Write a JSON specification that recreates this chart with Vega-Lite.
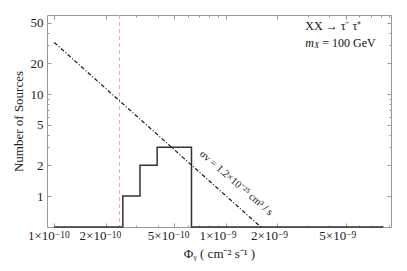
{
  "$schema": "https://vega.github.io/schema/vega-lite/v6.json",
  "width": 344,
  "height": 212,
  "autosize": "none",
  "padding": {"left": 47, "top": 15, "right": 16, "bottom": 44},
  "background": "white",
  "config": {
    "view": {"stroke": "#999999", "strokeWidth": 1},
    "font": "Liberation Serif"
  },
  "datasets": {
    "hist": [
      {"phi": 1e-10, "n": 0.497},
      {"phi": 2.51e-10, "n": 1},
      {"phi": 3.16e-10, "n": 2},
      {"phi": 3.98e-10, "n": 3},
      {"phi": 6.31e-10, "n": 0.497},
      {"phi": 8.3e-9, "n": 0.497}
    ],
    "sens": [
      {"phi": 1e-10, "n": 32},
      {"phi": 1.6e-9, "n": 0.497}
    ],
    "thresh": [{"phi": 2.4e-10}],
    "notes": [
      {"phi": 2.91e-9, "n": 46.4, "label": "XX → τ⁻ τ⁺", "kind": "a"},
      {"phi": 1.15e-9, "n": 1.34, "label": "σv = 1.2×10⁻²⁵ cm³ / s", "kind": "b"}
    ]
  },
  "resolve": {"axis": {"x": "independent", "y": "independent"}},
  "layer": [
    {
      "data": {"name": "thresh"},
      "mark": {"type": "rule", "color": "#f0a8a8", "strokeDash": [4, 3], "strokeWidth": 1},
      "encoding": {
        "x": {"field": "phi", "type": "quantitative", "scale": {"type": "log", "domain": [9.07e-11, 9.19e-9], "nice": false},
          "axis": {
            "orient": "bottom", "title": null, "ticks": false, "tickSize": 0, "domain": false, "grid": false,
            "values": [1e-10, 2e-10, 5e-10, 1e-9, 2e-9, 5e-9],
            "labelExpr": "floor(log(datum.value)/LN10+0.001) == -10 ? '−10' : ' −9'",
            "labelFont": "Liberation Serif", "labelFontSize": 9.5, "labelColor": "#222222",
            "labelAlign": "left", "labelBaseline": "top", "labelDx": 7, "labelDy": -2,
            "labelOverlap": false, "labelFlush": false, "labelPadding": 2
          }
        }
      }
    },
    {
      "data": {"name": "hist"},
      "mark": {"type": "line", "interpolate": "step-after", "color": "#333333", "strokeWidth": 1.5},
      "encoding": {
        "x": {"field": "phi", "type": "quantitative",
          "scale": {"type": "log", "domain": [9.07e-11, 9.19e-9], "nice": false},
          "axis": {
            "orient": "bottom",
            "title": "Φᵧ ( cm⁻² s⁻¹ )",
            "titleFont": "Liberation Serif", "titleFontWeight": "normal", "titleFontSize": 13, "titleColor": "#222222",
            "titlePadding": 3,
            "values": [1e-10, 2e-10, 3e-10, 4e-10, 5e-10, 6e-10, 7e-10, 8e-10, 9e-10, 1e-9, 2e-9, 3e-9, 4e-9, 5e-9, 6e-9, 7e-9, 8e-9, 9e-9],
            "labelExpr": "(round(datum.value/pow(10,floor(log(datum.value)/LN10+0.001)))==1 || round(datum.value/pow(10,floor(log(datum.value)/LN10+0.001)))==2 || round(datum.value/pow(10,floor(log(datum.value)/LN10+0.001)))==5) ? (round(datum.value/pow(10,floor(log(datum.value)/LN10+0.001))) + '×10' + (floor(log(datum.value)/LN10+0.001) == -10 ? ' ' : '')) : ''",
            "labelFont": "Liberation Serif", "labelFontSize": 13, "labelColor": "#222222",
            "labelAlign": "right", "labelDx": 9.5,
            "labelOverlap": false, "labelFlush": false,
            "labelPadding": 6,
            "tickSize": {"condition": {"test": "round(datum.value/pow(10,floor(log(datum.value)/LN10+0.001)))==1 || round(datum.value/pow(10,floor(log(datum.value)/LN10+0.001)))==2 || round(datum.value/pow(10,floor(log(datum.value)/LN10+0.001)))==5", "value": -4}, "value": -2},
            "tickColor": "#999999",
            "domain": false, "grid": false
          }
        },
        "y": {"field": "n", "type": "quantitative",
          "scale": {"type": "log", "domain": [0.497, 59.5], "nice": false},
          "axis": {
            "orient": "left",
            "title": "Number of Sources",
            "titleFont": "Liberation Serif", "titleFontWeight": "normal", "titleFontSize": 13, "titleColor": "#222222",
            "titlePadding": 5,
            "values": [1, 2, 3, 4, 5, 6, 7, 8, 9, 10, 20, 30, 40, 50],
            "labelExpr": "indexof([1,2,5,10,20,50], datum.value) >= 0 ? datum.label : ''",
            "labelFont": "Liberation Serif", "labelFontSize": 13, "labelColor": "#222222",
            "labelOverlap": false, "labelFlush": false,
            "labelPadding": 8,
            "tickSize": {"condition": {"test": "indexof([1,2,5,10,20,50], datum.value) >= 0", "value": -4}, "value": -2},
            "tickColor": "#999999",
            "domain": false, "grid": false
          }
        }
      }
    },
    {
      "data": {"name": "sens"},
      "mark": {"type": "line", "color": "#111111", "strokeWidth": 1.2, "strokeDash": [4, 2, 1, 2]},
      "encoding": {
        "x": {"field": "phi", "type": "quantitative",
          "scale": {"type": "log", "domain": [9.07e-11, 9.19e-9], "nice": false},
          "axis": {
            "orient": "top", "title": null, "labels": false,
            "values": [1e-10, 2e-10, 3e-10, 4e-10, 5e-10, 6e-10, 7e-10, 8e-10, 9e-10, 1e-9, 2e-9, 3e-9, 4e-9, 5e-9, 6e-9, 7e-9, 8e-9, 9e-9],
            "tickSize": {"condition": {"test": "round(datum.value/pow(10,floor(log(datum.value)/LN10+0.001)))==1 || round(datum.value/pow(10,floor(log(datum.value)/LN10+0.001)))==2 || round(datum.value/pow(10,floor(log(datum.value)/LN10+0.001)))==5", "value": -4}, "value": -2},
            "tickColor": "#999999", "domain": false, "grid": false
          }
        },
        "y": {"field": "n", "type": "quantitative",
          "scale": {"type": "log", "domain": [0.497, 59.5], "nice": false},
          "axis": {
            "orient": "right", "title": null, "labels": false,
            "values": [1, 2, 3, 4, 5, 6, 7, 8, 9, 10, 20, 30, 40, 50],
            "tickSize": {"condition": {"test": "indexof([1,2,5,10,20,50], datum.value) >= 0", "value": -4}, "value": -2},
            "tickColor": "#999999", "domain": false, "grid": false
          }
        }
      }
    },
    {
      "data": {"name": "notes"},
      "transform": [{"filter": "datum.kind == 'a'"}],
      "mark": {"type": "text", "align": "left", "baseline": "middle", "font": "Liberation Serif", "fontSize": 12, "color": "#111111"},
      "encoding": {
        "x": {"field": "phi", "type": "quantitative", "scale": {"type": "log", "domain": [9.07e-11, 9.19e-9], "nice": false}, "axis": null},
        "y": {"field": "n", "type": "quantitative", "scale": {"type": "log", "domain": [0.497, 59.5], "nice": false}, "axis": null},
        "text": {"field": "label"}
      }
    },
    {
      "data": {"values": [{"phi": 2.91e-9, "n": 31.8, "part": "m"}]},
      "mark": {"type": "text", "align": "left", "baseline": "middle", "font": "Liberation Serif", "fontSize": 12, "fontStyle": "italic", "color": "#111111"},
      "encoding": {
        "x": {"field": "phi", "type": "quantitative", "scale": {"type": "log", "domain": [9.07e-11, 9.19e-9], "nice": false}, "axis": null},
        "y": {"field": "n", "type": "quantitative", "scale": {"type": "log", "domain": [0.497, 59.5], "nice": false}, "axis": null},
        "text": {"field": "part"}
      }
    },
    {
      "data": {"values": [{"phi": 2.91e-9, "n": 31.8, "part": "X"}]},
      "mark": {"type": "text", "align": "left", "baseline": "middle", "font": "Liberation Serif", "fontSize": 8, "fontStyle": "italic", "color": "#111111", "dx": 9, "dy": 3},
      "encoding": {
        "x": {"field": "phi", "type": "quantitative", "scale": {"type": "log", "domain": [9.07e-11, 9.19e-9], "nice": false}, "axis": null},
        "y": {"field": "n", "type": "quantitative", "scale": {"type": "log", "domain": [0.497, 59.5], "nice": false}, "axis": null},
        "text": {"field": "part"}
      }
    },
    {
      "data": {"values": [{"phi": 2.91e-9, "n": 31.8, "part": "=  100 GeV"}]},
      "mark": {"type": "text", "align": "left", "baseline": "middle", "font": "Liberation Serif", "fontSize": 12, "color": "#111111", "dx": 17},
      "encoding": {
        "x": {"field": "phi", "type": "quantitative", "scale": {"type": "log", "domain": [9.07e-11, 9.19e-9], "nice": false}, "axis": null},
        "y": {"field": "n", "type": "quantitative", "scale": {"type": "log", "domain": [0.497, 59.5], "nice": false}, "axis": null},
        "text": {"field": "part"}
      }
    },
    {
      "data": {"name": "notes"},
      "transform": [{"filter": "datum.kind == 'b'"}],
      "mark": {"type": "text", "align": "center", "baseline": "middle", "angle": 41, "font": "Liberation Serif", "fontSize": 10.5, "color": "#111111"},
      "encoding": {
        "x": {"field": "phi", "type": "quantitative", "scale": {"type": "log", "domain": [9.07e-11, 9.19e-9], "nice": false}, "axis": null},
        "y": {"field": "n", "type": "quantitative", "scale": {"type": "log", "domain": [0.497, 59.5], "nice": false}, "axis": null},
        "text": {"field": "label"}
      }
    }
  ]
}
